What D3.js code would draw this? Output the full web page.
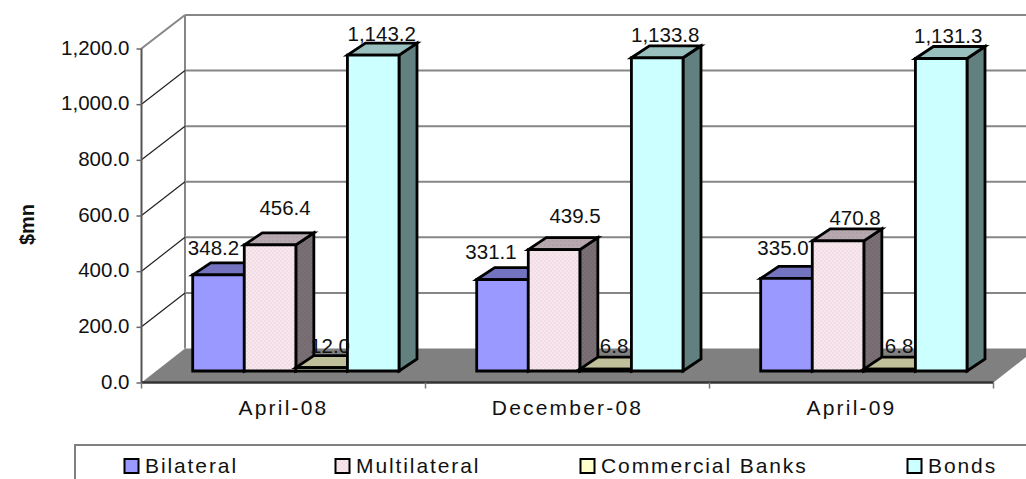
<!DOCTYPE html>
<html><head><meta charset="utf-8">
<script src="https://cdn.jsdelivr.net/npm/d3@7"></script>
<style>html,body{margin:0;padding:0;background:#fff;overflow:hidden}text{font-family:"Liberation Sans",Arial,sans-serif;fill:#111}</style>
</head><body><svg id="c" width="1026" height="479"></svg>
<script>
const categories=["April-08","December-08","April-09"];
const seriesNames=["Bilateral","Multilateral","Commercial Banks","Bonds"];
const bilateral=[348.2,331.1,335.0];
const multilateral=[456.4,439.5,470.8];
const commercialBanks=[12.0,6.8,6.8];
const bonds=[1143.2,1133.8,1131.3];
const yTicks=[0,200,400,600,800,1000,1200];
const allSeries=[bilateral,multilateral,commercialBanks,bonds];
// label nudges relative to the default place above a bar (dx, dy), layout only
const nudges=[[[-5,-8],[15,-18],[8.4,-3],[8.5,-2]],[[-11.5,-8.5],[21,-15],[8.4,-4],[8,-4]],[[-3.5,-11],[17,-4],[9.4,-4],[7,-3.5]]];

const svg=d3.select("#c");
const defs=svg.append("defs");
const pat=defs.append("pattern").attr("id","dots").attr("width",4).attr("height",4).attr("patternUnits","userSpaceOnUse");
pat.append("rect").attr("width",4).attr("height",4).attr("fill","#F8E8EE");
pat.append("circle").attr("cx",1).attr("cy",1).attr("r",.8).attr("fill","#E6D0DC");
pat.append("circle").attr("cx",3).attr("cy",3).attr("r",.8).attr("fill","#E6D0DC");
const patS=defs.append("pattern").attr("id","dotsSide").attr("width",4).attr("height",4).attr("patternUnits","userSpaceOnUse");
patS.append("rect").attr("width",4).attr("height",4).attr("fill","#7A7075");
patS.append("circle").attr("cx",1).attr("cy",1).attr("r",.8).attr("fill","#6C6268");
patS.append("circle").attr("cx",3).attr("cy",3).attr("r",.8).attr("fill","#6C6268");
const patT=defs.append("pattern").attr("id","dotsTop").attr("width",4).attr("height",4).attr("patternUnits","userSpaceOnUse");
patT.append("rect").attr("width",4).attr("height",4).attr("fill","#B6A8AE");
patT.append("circle").attr("cx",1).attr("cy",1).attr("r",.8).attr("fill","#A89AA2");

const W=[43.5,-33.5];            // wall depth
const D=[18,-12];                // bar depth
const y=d3.scaleLinear().domain([0,1200]).range([382.5,48.5]);
const yBack=d3.scaleLinear().domain([0,1200]).range([348.5,15]);
const yBar=d3.scaleLinear().domain([0,1200]).range([371,39.5]);
const x=d3.scaleBand().domain(categories).range([141.5,993.5]);
const xs=d3.scaleBand().domain(seriesNames).range([51.2,257.5]).paddingInner(0);

const fronts=["#9999FF","url(#dots)","#FFFFCC","#CCFFFF"];
const tops=["#7373BF","url(#dotsTop)","#BFBF99","#99BFBF"];
const sides=["#5C5C99","url(#dotsSide)","#99997A","#628080"];

// back wall grid
svg.selectAll(".grid").data(yTicks.slice(1)).join("line")
 .attr("x1",141.5+W[0]).attr("x2",1040).attr("y1",d=>yBack(d)).attr("y2",d=>yBack(d))
 .attr("stroke","#868686").attr("stroke-width",2);
svg.append("line").attr("x1",141.5+W[0]).attr("x2",141.5+W[0]).attr("y1",yBack(1200)).attr("y2",yBack(0)).attr("stroke","#868686").attr("stroke-width",2);
// side wall lines
svg.selectAll(".side").data(yTicks.slice(1)).join("line")
 .attr("x1",141.5).attr("x2",141.5+W[0]).attr("y1",d=>y(d)).attr("y2",d=>yBack(d))
 .attr("stroke",d=>d===1200?"#868686":"#222").attr("stroke-width",d=>d===1200?2:1.2);
// floor
svg.append("path").attr("fill","#808080")
 .attr("d",d3.line()([[141.5,y(0)],[141.5+W[0],yBack(0)],[993.5+W[0],yBack(0)],[993.5,y(0)]]));
// axes
const ax=svg.append("g").attr("transform","translate(141.5,0)").call(d3.axisLeft(y).tickValues(yTicks).tickSize(5).tickPadding(7).tickFormat(d3.format(",.1f")));
ax.select(".domain").attr("stroke","#555").attr("stroke-width",2).attr("d",`M0,${y(1200)}V${y(0)}`);
ax.selectAll(".tick line").attr("stroke","#666").attr("stroke-width",1.5);
ax.selectAll("text").attr("font-size",20.5).attr("fill","#111").attr("font-family","Liberation Sans").attr("dy","0.27em");
const bx=svg.append("g").attr("transform",`translate(0,${y(0)})`).call(d3.axisBottom(x).tickSize(0).tickPadding(18));
bx.select(".domain").attr("stroke","#333").attr("stroke-width",2.5).attr("d",`M141.5,0H993.5`);
bx.selectAll("text").attr("font-size",21).attr("letter-spacing",2.2).attr("fill","#111").attr("font-family","Liberation Sans");
svg.selectAll(".xt").data(d3.range(categories.length+1)).join("line")
 .attr("x1",i=>141.5+i*x.step()).attr("x2",i=>141.5+i*x.step()).attr("y1",y(0)).attr("y2",y(0)+6).attr("stroke","#777").attr("stroke-width",1.5);
svg.append("text").attr("transform",`translate(34,${y(600)+9}) rotate(-90)`).attr("text-anchor","middle").attr("font-weight","bold").attr("font-size",20).text("$mn");

// bars
const barStroke={stroke:"#000","stroke-width":2.8,"stroke-linejoin":"miter"};
categories.forEach((c,ci)=>{
  const g=svg.append("g");
  seriesNames.forEach((s,si)=>{
    const v=allSeries[si][ci];
    const x0=x(c)+xs(s), x1=x0+xs.bandwidth(), yt=yBar(v), yb=yBar(0);
    const poly=(pts,fill)=>{const p=g.append("path").attr("d",d3.line()(pts)+"Z").attr("fill",fill);Object.entries(barStroke).forEach(([k,val])=>p.attr(k,val));};
    poly([[x1,yb],[x1+D[0],yb+D[1]],[x1+D[0],yt+D[1]],[x1,yt]],sides[si]);
    poly([[x0,yt],[x0+D[0],yt+D[1]],[x1+D[0],yt+D[1]],[x1,yt]],tops[si]);
    poly([[x0,yb],[x0,yt],[x1,yt],[x1,yb]],fronts[si]);
  });
});
// labels
categories.forEach((c,ci)=>{
  seriesNames.forEach((s,si)=>{
    const v=allSeries[si][ci];
    const n=nudges[ci][si];
    svg.append("text").attr("text-anchor","middle").attr("font-size",20.5)
     .attr("x",x(c)+xs(s)+xs.bandwidth()/2+n[0]).attr("y",yBar(v)+D[1]+n[1])
     .text(d3.format(",.1f")(v));
  });
});
// legend
svg.append("rect").attr("x",75).attr("y",445).attr("width",1000).attr("height",60).attr("fill","#fff").attr("stroke","#808080").attr("stroke-width",2);
const lx=d3.scaleOrdinal().domain(seriesNames).range([124,335,580,907]);
const lg=svg.selectAll(".lg").data(seriesNames).join("g").attr("transform",d=>`translate(${lx(d)},0)`);
lg.append("rect").attr("x",.5).attr("y",459).attr("width",14).attr("height",14).attr("fill",(d,i)=>fronts[i]).attr("stroke","#000").attr("stroke-width",2);
lg.append("text").attr("x",21).attr("y",473).attr("font-size",21).attr("letter-spacing",1.9).text(d=>d);
</script></body></html>
